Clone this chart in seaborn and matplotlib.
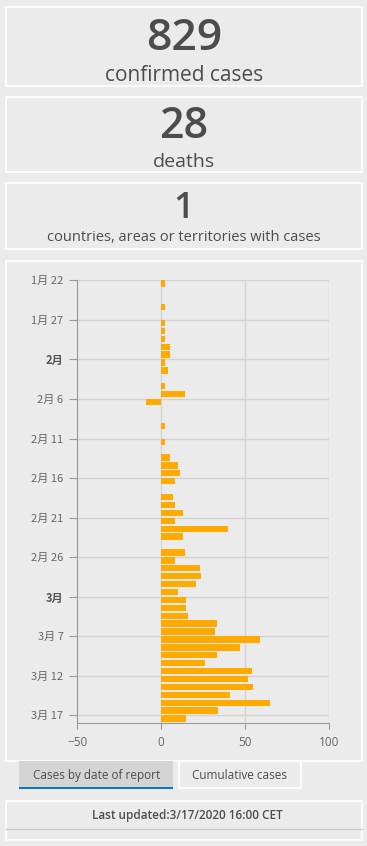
import numpy as np
import pandas as pd
import matplotlib
matplotlib.use("Agg")
import matplotlib.pyplot as plt
import seaborn as sns
from matplotlib.patches import Rectangle

# daily new cases by date of report, 2020-01-22 .. 2020-03-17
dates = pd.date_range("2020-01-22", "2020-03-17", freq="D")
new_cases = [2, 0, 0, 2, 0, 2, 2, 2, 5, 5,
             2, 4, 0, 2, 14, -9, 0, 0, 2, 0, 2, 0, 5, 10, 11, 8, 0, 7, 8, 13,
             8, 40, 13, 0, 14, 8, 23, 24, 21,
             10, 15, 15, 16, 33, 32, 59, 47, 33, 26, 54, 52, 55, 41, 65, 34, 15]
tick_dates = ["2020-01-22", "2020-01-27", "2020-02-01", "2020-02-06", "2020-02-11",
              "2020-02-16", "2020-02-21", "2020-02-26", "2020-03-02", "2020-03-07",
              "2020-03-12", "2020-03-17"]
tick_labels = ["1月 22", "1月 27", "2月", "2月 6", "2月 11", "2月 16", "2月 21",
               "2月 26", "3月", "3月 7", "3月 12", "3月 17"]
x_ticks = [-50, 0, 50, 100]

headline_values = ["829", "28", "1"]
headline_labels = ["confirmed cases", "deaths", "countries, areas or territories with cases"]

W, H = 367, 846
bg = "#ebebeb"
txt = "#4c4c4c"

fig = plt.figure(figsize=(W / 100, H / 100), dpi=100, facecolor=bg)


def fx(x):
    return x / W


def fy(y):
    return 1 - y / H


def panel(x, y, w, h, fc=bg, ec="white", lw=1.2):
    fig.patches.append(Rectangle((fx(x), fy(y + h)), w / W, h / H, transform=fig.transFigure,
                                 facecolor=fc, edgecolor=ec, linewidth=lw, zorder=-2))


# headline boxes
panel(6, 7, 356, 79)
panel(6, 97, 356, 75)
panel(6, 183, 356, 66)
panel(6, 261, 356, 500)

font = "Open Sans"
fig.text(fx(184), fy(50), headline_values[0], ha="center", va="baseline", fontsize=32,
         fontweight="semibold", color=txt, family=font)
fig.text(fx(184), fy(81), headline_labels[0], ha="center", va="baseline", fontsize=15,
         color=txt, family=font)
fig.text(fx(184), fy(138), headline_values[1], ha="center", va="baseline", fontsize=31,
         fontweight="semibold", color=txt, family=font)
fig.text(fx(184), fy(167), headline_labels[1], ha="center", va="baseline", fontsize=14,
         color=txt, family=font)
fig.text(fx(184), fy(218), headline_values[2], ha="center", va="baseline", fontsize=26,
         fontweight="semibold", color=txt, family=font)
fig.text(fx(184), fy(241), headline_labels[2], ha="center", va="baseline", fontsize=10.5,
         color=txt, family=font)

# bar chart
ax = fig.add_axes([fx(77.3), fy(723.3), (329 - 77.3) / W, (723.3 - 280.3) / H])
ax.set_zorder(2)
ax.set_facecolor(bg)
df = pd.DataFrame({"date": dates.strftime("%Y-%m-%d"), "cases": new_cases})
sns.barplot(data=df, x="cases", y="date", orient="h", color="#ffaa00", width=0.8,
            saturation=1, ax=ax, zorder=3, edgecolor="none")
n = len(df)
ax.set_ylim(n - 0.4, -0.4)
ax.set_xlim(-50, 100)
idx = [list(df["date"]).index(d) for d in tick_dates]
ax.set_yticks([i - 0.4 for i in idx])
ax.set_yticklabels(tick_labels)
ax.set_xticks(x_ticks)
ax.set_xlabel("")
ax.set_ylabel("")
ax.grid(True, color="#d3d3d3", linewidth=1, zorder=0)
ax.set_axisbelow(True)
for s in ["top", "right"]:
    ax.spines[s].set_visible(False)
ax.spines["left"].set_color("#9a9a9a")
ax.spines["bottom"].set_color("#9a9a9a")
ax.tick_params(axis="y", length=6, color="#9a9a9a", pad=4, labelsize=8, labelcolor="#666666")
ax.tick_params(axis="x", length=4, color="#9a9a9a", pad=5, labelsize=8.5, labelcolor="#666666")
for lab in ax.get_yticklabels():
    lab.set_family(["Noto Sans CJK JP", "DejaVu Sans"])
    if " " not in lab.get_text():
        lab.set_fontweight("bold")
        lab.set_color("#555555")
for lab in ax.get_xticklabels():
    lab.set_family(font)

# tabs
panel(19, 761, 154, 27, fc="#d4d4d4", ec="none")
fig.patches.append(Rectangle((fx(19), fy(788.5)), 154 / W, 2 / H, transform=fig.transFigure,
                             facecolor="#0079c1", edgecolor="none", zorder=1))
panel(179, 761, 122, 27)
fig.text(fx(97), fy(775), "Cases by date of report", ha="center", va="center", fontsize=8.5,
         color=txt, family=font)
fig.text(fx(240), fy(775), "Cumulative cases", ha="center", va="center", fontsize=8.5,
         color=txt, family=font)

# last updated
panel(6, 801, 356, 39)
fig.lines.append(plt.Line2D([fx(6), fx(362)], [fy(829), fy(829)], transform=fig.transFigure,
                            color="#c8c8c8", linewidth=1))
fig.text(fx(187), fy(815), "Last updated:3/17/2020 16:00 CET", ha="center", va="center",
         fontsize=8.5, fontweight="semibold", color=txt, family=font)

fig.savefig("out.png", dpi=100, facecolor=bg)
